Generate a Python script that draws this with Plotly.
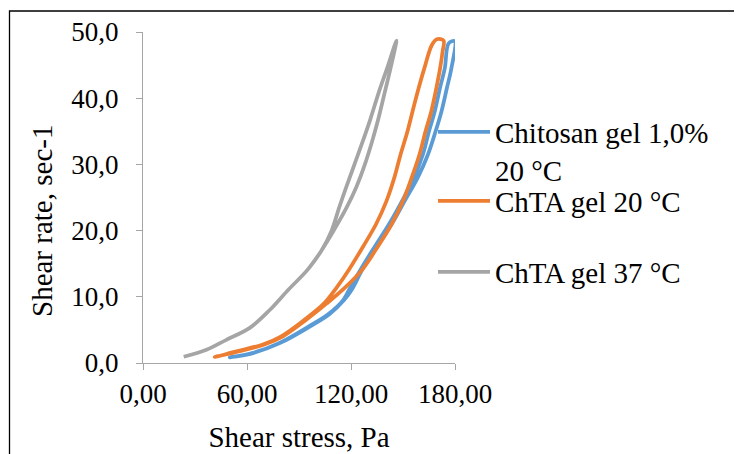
import plotly.graph_objects as go

# ---------------- data ----------------
x_ticks = [0, 60, 120, 180]
x_tick_labels = ["0,00", "60,00", "120,00", "180,00"]
y_ticks = [0, 10, 20, 30, 40, 50]
y_tick_labels = ["0,0", "10,0", "20,0", "30,0", "40,0", "50,0"]

series_names = ["Chitosan gel 1,0%<br>20 °C", "ChTA gel 20 °C", "ChTA gel 37 °C"]

# Chitosan gel 1,0% 20 °C : up-curve then down-curve
stress_chitosan = [50.0, 63.5, 78.9, 96.2, 107.7, 116.0, 120.5, 126.5, 134.5, 143.5, 151.0, 158.5,
                   164.4, 168.8, 172.2, 175.3, 177.9, 179.8,
                   176.4, 174.1, 171.3, 168.3, 165.0, 161.5, 156.3, 149.5, 142.0, 133.5, 125.5,
                   119.0, 115.5, 107.0, 95.5, 78.5, 63.0, 50.0]
rate_chitosan = [0.85, 1.5, 3.0, 5.5, 7.4, 9.5, 11.1, 14.1, 17.5, 21.0, 24.5, 28.0,
                 31.5, 35.0, 38.0, 41.5, 44.5, 48.6,
                 48.3, 44.5, 41.5, 38.0, 35.0, 31.5, 28.0, 24.5, 21.0, 17.5, 14.1,
                 11.1, 9.5, 7.4, 5.5, 3.0, 1.5, 0.85]

# ChTA gel 20 °C
stress_chta20 = [41.4, 55.0, 70.0, 80.5, 94.0, 106.0, 117.0, 126.5, 135.5, 143.5, 150.0, 155.0,
                 159.5, 163.0, 166.3, 169.2, 171.4, 172.8, 173.4,
                 169.5, 166.6, 162.3, 159.0, 155.5, 152.6, 148.6, 145.0, 140.5, 134.5, 127.0,
                 118.8, 112.0, 104.5, 93.0, 79.5, 69.2, 53.9, 41.4]
rate_chta20 = [0.9, 1.75, 2.8, 4.0, 6.5, 9.0, 11.5, 14.1, 17.6, 21.0, 24.5, 28.0,
               31.5, 35.0, 38.0, 41.5, 44.5, 47.0, 48.7,
               48.9, 48.0, 44.5, 41.5, 38.0, 35.0, 31.5, 28.0, 24.5, 21.0, 17.6,
               14.1, 11.5, 9.0, 6.5, 4.0, 2.8, 1.75, 0.9]

# ChTA gel 37 °C
stress_chta37 = [23.5, 36.6, 48.1, 61.6, 73.1, 84.0, 95.0, 103.0, 110.0, 117.5, 123.1, 128.0,
                 132.2, 135.6, 139.3, 142.8, 146.2,
                 140.8, 135.8, 131.0, 126.8, 122.0, 117.3, 113.2, 108.8, 103.0, 95.0, 84.0,
                 73.1, 61.6, 48.1, 36.6, 23.5]
rate_chta37 = [0.95, 2.0, 3.5, 5.3, 8.0, 11.1, 14.1, 17.0, 20.0, 23.5, 26.6, 30.0,
               33.5, 36.7, 40.7, 44.5, 48.7,
               44.5, 40.7, 36.7, 33.5, 30.0, 26.6, 23.5, 20.0, 17.0, 14.1, 11.1,
               8.0, 5.3, 3.5, 2.0, 0.95]

colors = ["#5B9BD5", "#ED7D31", "#A5A5A5"]

# ---------------- layout geometry ----------------
# the page body adds an 8 px offset; positions below are in window pixels
OFF = 8
W, H = 742, 454
PL, PR, PT, PB = 143, 455, 32, 363  # plot area edges in window pixels
L, T = PL - OFF, PT - OFF
R, B = W - (PR - OFF), H - (PB - OFF)
PW, PH = PR - PL, PB - PT


def fx(p):
    return (p - PL) / PW


def fy(p):
    return (PB - p) / PH


FONT = "Liberation Serif"

fig = go.Figure()
data = [(stress_chitosan, rate_chitosan), (stress_chta20, rate_chta20), (stress_chta37, rate_chta37)]
legends = ["legend", "legend2", "legend3"]
for (xs, ys), name, col, lg in zip(data, series_names, colors, legends):
    fig.add_trace(go.Scatter(
        x=xs, y=ys, mode="lines", name=name, legend=lg, showlegend=True,
        line=dict(color=col, width=3.75, shape="spline", smoothing=1.0),
    ))

leg_common = dict(
    xanchor="left", yanchor="middle", bgcolor="rgba(0,0,0,0)", borderwidth=0,
    font=dict(family=FONT, size=29, color="black"), itemwidth=52, valign="top",
    visible=True,
)
fig.update_layout(
    showlegend=True,
    legend=dict(x=fx(433), y=fy(151), **leg_common),
    legend2=dict(x=fx(433), y=fy(201), **leg_common),
    legend3=dict(x=fx(433), y=fy(272), **leg_common),
)

axis_common = dict(
    showgrid=False, zeroline=False, showline=True, linecolor="#A6A6A6", linewidth=1.3,
    ticks="outside", ticklen=6, tickcolor="#A6A6A6", tickwidth=1.3,
    tickfont=dict(family=FONT, size=27, color="black"),
)
fig.update_xaxes(range=[0, 180], tickvals=x_ticks, ticktext=x_tick_labels,
                 ticklabelstandoff=0,
                 title=dict(text="Shear stress, Pa", font=dict(family=FONT, size=29, color="black"),
                            standoff=19),
                 **axis_common)
fig.update_yaxes(range=[0, 50], tickvals=y_ticks, ticktext=y_tick_labels,
                 ticklabelstandoff=12, **axis_common)

fig.add_annotation(text="Shear rate, sec-1", xref="paper", yref="paper",
                   x=fx(42), y=fy(221), textangle=-90, showarrow=False,
                   xanchor="center", yanchor="middle",
                   font=dict(family=FONT, size=29, color="black"))

fig.add_shape(type="rect", xref="paper", yref="paper",
              x0=fx(9.5), x1=fx(741), y0=fy(480), y1=fy(11),
              line=dict(color="black", width=1.3), layer="below")

fig.update_layout(
    width=W, height=H,
    margin=dict(l=L, r=R, t=T, b=B, autoexpand=False),
    paper_bgcolor="white", plot_bgcolor="white",
    font=dict(family=FONT, color="black"),
)

fig.write_html("out.html")
